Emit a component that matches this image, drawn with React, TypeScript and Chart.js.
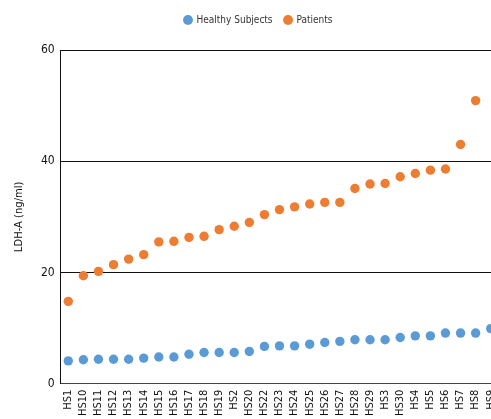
import React, { useEffect, useRef } from "react";
import { Chart, registerables } from "chart.js";

Chart.register(...registerables);

const categories = ["HS1","HS10","HS11","HS12","HS13","HS14","HS15","HS16","HS17","HS18","HS19","HS2","HS20","HS22","HS23","HS24","HS25","HS26","HS27","HS28","HS29","HS3","HS30","HS4","HS5","HS6","HS7","HS8","HS9"];
const healthy = [4.1,4.3,4.4,4.4,4.4,4.6,4.8,4.8,5.3,5.6,5.6,5.6,5.8,6.7,6.8,6.8,7.1,7.4,7.6,7.9,7.9,7.9,8.3,8.6,8.6,9.1,9.1,9.1,9.9];
const patients: (number | null)[] = [14.8,19.4,20.2,21.4,22.4,23.2,25.5,25.6,26.3,26.5,27.7,28.3,29.0,30.4,31.3,31.8,32.3,32.6,32.6,35.1,35.9,36.0,37.2,37.8,38.4,38.6,43.0,50.9,null];
const yTicks = [0, 20, 40, 60];

const FONT = "'Liberation Sans Narrow', 'DejaVu Sans Condensed', 'Noto Sans', sans-serif";

const legendMargin = {
  id: "legendMargin",
  beforeInit(chart: any) {
    const orig = chart.legend.fit;
    chart.legend.fit = function () {
      orig.bind(chart.legend)();
      this.height += 15;
    };
  },
};

export default function App() {
  const ref = useRef<HTMLCanvasElement>(null);
  useEffect(() => {
    const c = new Chart(ref.current!, {
      type: "line",
      data: {
        labels: categories,
        datasets: [
          { label: "Healthy Subjects", data: healthy, showLine: false, pointRadius: 4.7, pointHoverRadius: 4.7, backgroundColor: "#5B9BD5", borderColor: "#5B9BD5", pointBorderWidth: 0 },
          { label: "Patients", data: patients, showLine: false, pointRadius: 4.7, pointHoverRadius: 4.7, backgroundColor: "#ED7D31", borderColor: "#ED7D31", pointBorderWidth: 0 },
        ],
      },
      plugins: [legendMargin],
      options: {
        responsive: false,
        animation: false,
        devicePixelRatio: 1,
        layout: { padding: { top: 3, right: 2, left: 9, bottom: 0 } },
        plugins: {
          legend: {
            position: "top",
            labels: { usePointStyle: true, pointStyle: "circle", boxWidth: 7, boxHeight: 7, padding: 12, color: "#333", font: { family: FONT, size: 10 } },
          },
          tooltip: { enabled: false },
        },
        scales: {
          x: {
            offset: true,
            grid: { display: false, drawTicks: false },
            border: { display: true, color: "#444", width: 1 },
            ticks: { minRotation: 90, maxRotation: 90, autoSkip: false, color: "#111", padding: 6, font: { family: FONT, size: 11 } },
          },
          y: {
            min: 0,
            max: 60,
            afterBuildTicks: (s: any) => { s.ticks = yTicks.map((v) => ({ value: v })); },
            grid: { color: "#111", lineWidth: 1, drawTicks: false },
            border: { display: true, color: "#111", width: 1 },
            ticks: { color: "#111", padding: 6, font: { family: FONT, size: 12 } },
            title: { display: true, text: "LDH-A (ng/ml)", color: "#111", padding: { bottom: 10 }, font: { family: "'DejaVu Sans', sans-serif", size: 10 } },
          },
        },
      },
    });
    return () => c.destroy();
  }, []);
  return (
    <div style={{ position: "fixed", left: 0, top: 0, width: 491, height: 419, overflow: "hidden", background: "#fff" }}>
      <canvas ref={ref} width={510} height={422} style={{ width: 510, height: 422, display: "block" }} />
    </div>
  );
}
